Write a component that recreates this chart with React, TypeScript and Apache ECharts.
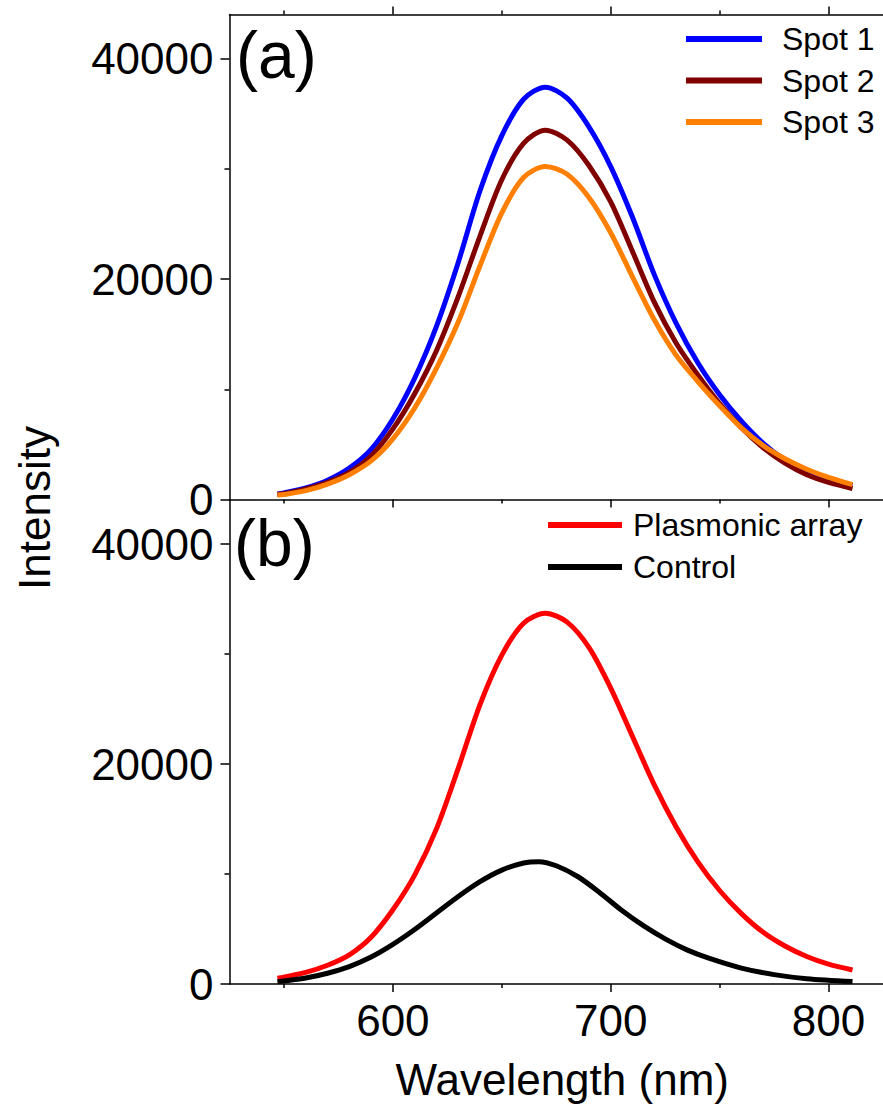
import React, { useEffect, useRef } from "react";
import * as echarts from "echarts";

// ---- data ----
const spot1Wl = [547, 550, 560, 570, 580, 590, 600, 610, 620, 630, 640, 650, 660, 670, 680, 690, 700, 710, 720, 730, 740, 750, 760, 770, 780, 790, 800, 811];
const spot1Int = [500, 600, 1050, 1750, 2850, 4550, 7300, 11000, 15700, 21500, 28000, 33000, 36300, 37400, 36400, 33800, 30200, 25600, 20400, 16000, 12400, 9500, 7100, 5100, 3600, 2600, 1850, 1300];

const spot2Wl = [547, 550, 560, 570, 580, 590, 600, 610, 620, 630, 640, 650, 660, 670, 680, 690, 700, 710, 720, 730, 740, 750, 760, 770, 780, 790, 800, 811];
const spot2Int = [450, 520, 950, 1550, 2450, 3950, 6400, 9600, 13500, 18400, 23900, 29000, 32300, 33500, 32600, 30300, 27000, 22500, 17900, 14200, 11300, 8700, 6500, 4700, 3300, 2250, 1550, 1000];

const spot3Wl = [547, 550, 560, 570, 580, 590, 600, 610, 620, 630, 640, 650, 660, 670, 680, 690, 700, 710, 720, 730, 740, 750, 760, 770, 780, 790, 800, 811];
const spot3Int = [400, 450, 800, 1400, 2250, 3500, 5500, 8300, 11900, 16100, 21200, 26000, 29200, 30200, 29500, 27400, 24200, 20200, 16300, 13100, 10700, 8500, 6500, 4900, 3700, 2750, 2000, 1350];

const plasmonicWl = [547, 550, 560, 570, 580, 590, 600, 610, 620, 630, 640, 650, 660, 670, 680, 690, 700, 710, 720, 730, 740, 750, 760, 770, 780, 790, 800, 811];
const plasmonicInt = [520, 620, 1050, 1700, 2650, 4250, 6750, 9900, 14100, 19600, 25400, 29900, 32800, 33700, 32900, 30600, 26900, 22500, 18100, 14300, 11100, 8500, 6400, 4700, 3450, 2500, 1800, 1270];

const controlWl = [547, 550, 560, 570, 580, 590, 600, 610, 620, 630, 640, 650, 660, 667, 675, 685, 695, 705, 715, 725, 735, 745, 760, 775, 790, 811];
const controlInt = [210, 280, 550, 980, 1580, 2450, 3600, 4950, 6450, 7950, 9300, 10350, 11000, 11120, 10750, 9750, 8300, 6700, 5300, 4100, 3100, 2350, 1450, 850, 480, 220];

const xMajorTicks = [600, 700, 800];
const xMinorTicks = [550, 650, 750];
const yMajorTicks = [0, 20000, 40000];
const yMinorTicks = [10000, 30000];

const seriesNamesA = ["Spot 1", "Spot 2", "Spot 3"];
const seriesNamesB = ["Plasmonic array", "Control"];

const FONT = "'Liberation Sans', Arial, Helvetica, sans-serif";

function zip(xs: number[], ys: number[]) {
  return xs.map((x, i) => [x, ys[i]]);
}

export default function App() {
  const ref = useRef<HTMLDivElement>(null);

  useEffect(() => {
    if (!ref.current) return;
    const chart = echarts.init(ref.current, undefined, { renderer: "svg" });

    const X_MIN = 525;
    const X_MAX = 825;
    const Y_MAX = 44000;
    const line = { lineStyle: { color: "#000", width: 1.5 } };

    const xMajor = (gridIndex: number, position: "top" | "bottom", labels: boolean, extra: any = {}) => ({
      type: "value",
      gridIndex,
      position,
      min: X_MIN,
      max: X_MAX,
      axisLine: { show: true, onZero: false, ...line },
      axisTick: { show: true, inside: false, length: 8, customValues: xMajorTicks, lineStyle: { color: "#000", width: 1.5 } },
      axisLabel: {
        show: labels,
        customValues: xMajorTicks,
        fontSize: 44,
        fontFamily: FONT,
        color: "#000",
        margin: 14,
        formatter: (v: number) => String(v),
      },
      splitLine: { show: false },
      ...extra,
    });
    const xMinor = (gridIndex: number, position: "top" | "bottom") => ({
      type: "value",
      gridIndex,
      position,
      min: X_MIN,
      max: X_MAX,
      axisLine: { show: false, onZero: false },
      axisTick: { show: true, inside: false, length: 4, customValues: xMinorTicks, lineStyle: { color: "#000", width: 1.5 } },
      axisLabel: { show: false },
      splitLine: { show: false },
    });
    const yMajor = (gridIndex: number) => ({
      type: "value",
      gridIndex,
      position: "left",
      min: 0,
      max: Y_MAX,
      axisLine: { show: true, onZero: false, ...line },
      axisTick: { show: true, inside: false, length: 9, customValues: yMajorTicks, lineStyle: { color: "#000", width: 1.5 } },
      axisLabel: {
        show: true,
        customValues: yMajorTicks,
        fontSize: 44,
        fontFamily: FONT,
        color: "#000",
        margin: 16,
        formatter: (v: number) => String(v),
      },
      splitLine: { show: false },
    });
    const yMinor = (gridIndex: number) => ({
      type: "value",
      gridIndex,
      position: "left",
      min: 0,
      max: Y_MAX,
      axisLine: { show: false, onZero: false },
      axisTick: { show: true, inside: false, length: 5, customValues: yMinorTicks, lineStyle: { color: "#000", width: 1.5 } },
      axisLabel: { show: false },
      splitLine: { show: false },
    });

    const mkSeries = (name: string, wl: number[], val: number[], color: string, xi: number, yi: number) => ({
      name,
      type: "line",
      xAxisIndex: xi,
      yAxisIndex: yi,
      data: zip(wl, val),
      showSymbol: false,
      symbol: "none",
      smooth: 0.3,
      lineStyle: { color, width: 5 },
      itemStyle: { color },
      emphasis: { disabled: true },
    });

    const legendText = { fontSize: 32, fontFamily: FONT, color: "#000", lineHeight: 36 };

    chart.setOption({
      animation: false,
      backgroundColor: "#fff",
      grid: [
        { left: 229.5, top: 14.4, width: 654, height: 485.1 },
        { left: 229.5, top: 500, width: 654, height: 484 },
      ],
      xAxis: [
        xMajor(0, "bottom", false),
        xMajor(0, "top", false),
        xMajor(1, "bottom", true, {
          name: "Wavelength (nm)",
          nameLocation: "middle",
          nameGap: 73,
          nameTextStyle: { fontSize: 44, fontFamily: FONT, color: "#000", padding: [0, 0, 0, 12] },
        }),
        xMinor(0, "bottom"),
        xMinor(0, "top"),
        xMinor(1, "bottom"),
      ],
      yAxis: [yMajor(0), yMinor(0), yMajor(1), yMinor(1)],
      legend: [
        {
          data: seriesNamesA,
          orient: "vertical",
          left: 686,
          top: 21,
          padding: 0,
          icon: "rect",
          itemWidth: 76,
          itemHeight: 6,
          itemGap: 5.5,
          selectedMode: false,
          textStyle: { ...legendText, padding: [0, 0, 0, 15] },
        },
        {
          data: seriesNamesB,
          orient: "vertical",
          left: 548,
          top: 507,
          padding: 0,
          icon: "rect",
          itemWidth: 74,
          itemHeight: 6,
          itemGap: 6,
          selectedMode: false,
          textStyle: { ...legendText, padding: [0, 0, 0, 6] },
        },
      ],
      graphic: [
        {
          type: "text",
          left: 236,
          top: 22,
          style: { text: "(a)", fontSize: 66, fontFamily: FONT, fill: "#000" },
        },
        {
          type: "text",
          left: 234,
          top: 510,
          style: { text: "(b)", fontSize: 66, fontFamily: FONT, fill: "#000" },
        },
        {
          type: "text",
          x: 34,
          y: 508,
          rotation: Math.PI / 2,
          style: {
            text: "Intensity",
            fontSize: 44,
            fontFamily: FONT,
            fill: "#000",
            align: "center",
            verticalAlign: "middle",
          },
        },
      ],
      series: [
        mkSeries(seriesNamesA[0], spot1Wl, spot1Int, "#0000FF", 0, 0),
        mkSeries(seriesNamesA[1], spot2Wl, spot2Int, "#800000", 0, 0),
        mkSeries(seriesNamesA[2], spot3Wl, spot3Int, "#FF8000", 0, 0),
        mkSeries(seriesNamesB[0], plasmonicWl, plasmonicInt, "#FF0000", 2, 2),
        mkSeries(seriesNamesB[1], controlWl, controlInt, "#000000", 2, 2),
      ],
    });

    return () => chart.dispose();
  }, []);

  return (
    <div
      ref={ref}
      style={{ position: "fixed", left: 0, top: 0, width: 883, height: 1116, background: "#fff" }}
    />
  );
}
